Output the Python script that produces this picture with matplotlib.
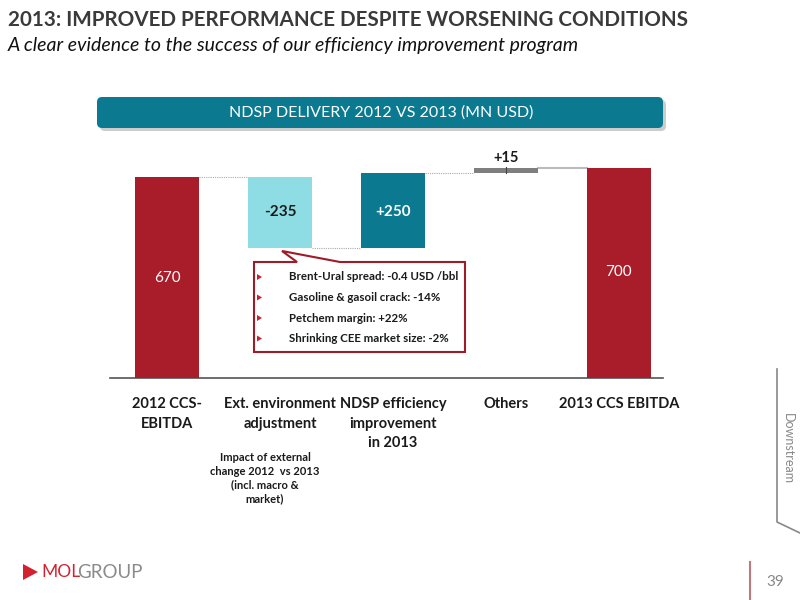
import matplotlib
matplotlib.use("Agg")
import matplotlib.pyplot as plt
from matplotlib.patches import FancyBboxPatch, Polygon

# ── Data ──────────────────────────────────────────────────────────────────────
CATEGORIES = ["2012 CCS-\nEBITDA", "Ext. environment\nadjustment",
              "NDSP efficiency\nimprovement\nin 2013", "Others", "2013 CCS EBITDA"]
VALUES = [670, -235, 250, 15, 700]
VALUE_LABELS = ["670", "-235", "+250", "+15", "700"]
IS_TOTAL = [True, False, False, False, True]
BAR_COLORS = ["#a91d2b", "#8fdde4", "#0b7a91", "#7f7f7f", "#a91d2b"]

CALLOUT_LINES = ["Brent-Ural spread: -0.4 USD /bbl",
                 "Gasoline & gasoil crack: -14%",
                 "Petchem margin: +22%",
                 "Shrinking CEE market size: -2%"]

RED = "#a91d2b"
TEAL = "#0b7a91"
FONT = "Lato"

# ── Figure ────────────────────────────────────────────────────────────────────
fig = plt.figure(figsize=(8, 6), dpi=100)
fig.patch.set_facecolor("white")

# chart axes placed in pixel terms (baseline at y=378 px)
ax = fig.add_axes([110 / 800, (600 - 378) / 600, 553 / 800, 240 / 600])
ax.set_xlim(-0.504, 4.39)
ax.set_ylim(0, 800)

bottoms, heights = [], []
running = 0
for v, total in zip(VALUES, IS_TOTAL):
    if total:
        bottoms.append(0)
        heights.append(v)
        running = v
    else:
        new = running + v
        bottoms.append(min(running, new))
        heights.append(abs(v))
        running = new

xs = list(range(len(VALUES)))
ax.bar(xs, heights, bottom=bottoms, width=0.56, color=BAR_COLORS, zorder=3)

# connectors between consecutive bars
levels = [670, 435, 685, 700]
for i, lvl in enumerate(levels):
    if i == 3:
        ax.plot([i + 0.28, i + 0.72], [lvl, lvl], color="#bbbbbb", lw=1.5, zorder=2)
    else:
        ax.plot([i + 0.28, i + 0.72], [lvl, lvl], color="#aaaaaa", lw=0.8,
                ls=(0, (1, 1)), zorder=2)
ax.plot([3, 3], [bottoms[3] - 3, bottoms[3] + 15 + 3], color="#444444", lw=0.8, zorder=4)

# value labels
ax.text(0, 335, VALUE_LABELS[0], ha="center", va="center", color="white",
        fontsize=11, family=FONT)
ax.text(1, 552, VALUE_LABELS[1], ha="center", va="center", color="#1a1a1a",
        fontsize=11, fontweight="bold", family=FONT)
ax.text(2, 552, VALUE_LABELS[2], ha="center", va="center", color="white",
        fontsize=11, fontweight="bold", family=FONT)
ax.text(3, 710, VALUE_LABELS[3], ha="center", va="bottom", color="#1a1a1a",
        fontsize=10.5, fontweight="bold", family=FONT)
ax.text(4, 355, VALUE_LABELS[4], ha="center", va="center", color="white",
        fontsize=11, family=FONT)

ax.set_xticks(xs)
ax.set_xticklabels(CATEGORIES, fontsize=10.5, fontweight="bold", family=FONT,
                   color="#1a1a1a", linespacing=1.5)
ax.tick_params(axis="x", length=0, pad=14)
ax.set_yticks([])
for s in ["top", "left", "right"]:
    ax.spines[s].set_visible(False)
ax.spines["bottom"].set_color("#555555")
ax.spines["bottom"].set_linewidth(1.2)
ax.patch.set_alpha(0)

# ── Overlay in pixel coordinates ─────────────────────────────────────────────
ov = fig.add_axes([0, 0, 1, 1], zorder=5)
ov.set_xlim(0, 800)
ov.set_ylim(600, 0)
ov.axis("off")
ov.patch.set_alpha(0)

ov.text(8, 20, "2013: IMPROVED PERFORMANCE DESPITE WORSENING CONDITIONS",
        fontsize=14.9, fontweight="bold", color="#3a3a3a", family=FONT,
        va="center", ha="left")
ov.text(8, 46, "A clear evidence to the success of our efficiency improvement program",
        fontsize=14, style="italic", color="#111111", family=FONT,
        va="center", ha="left")

# banner
ov.add_patch(FancyBboxPatch((100, 100), 566, 31, boxstyle="round,pad=0,rounding_size=5",
                            fc="#9a9a9a", ec="none", alpha=0.5))
ov.add_patch(FancyBboxPatch((97, 97), 566, 31, boxstyle="round,pad=0,rounding_size=5",
                            fc=TEAL, ec="none"))
ov.text(381, 113, "NDSP DELIVERY 2012 VS 2013 (MN USD)", color="white",
        fontsize=11.5, ha="center", va="center", family=FONT)

# callout
callout = Polygon([(254, 262), (297, 262), (282, 251), (340, 262), (465, 262),
                   (465, 352), (254, 352)], closed=True, fc="white", ec="#9e1b27", lw=1.5)
ov.add_patch(callout)
for j, line in enumerate(CALLOUT_LINES):
    yy = 277 + j * 20.5
    ov.add_patch(Polygon([(257, yy - 3), (257, yy + 3), (262, yy)], closed=True,
                         fc="#c8202e", ec="none"))
    ov.text(289, yy, line, fontsize=8.3, fontweight="bold", color="#1a1a1a",
            family=FONT, va="center", ha="left")

# note under category
ov.text(265, 478, "Impact of external\nchange 2012  vs 2013\n(incl. macro &\nmarket)",
        fontsize=8, fontweight="bold", color="#1a1a1a", family=FONT,
        ha="center", va="center", linespacing=1.3)

# side tab
ov.plot([777, 777, 800], [369, 522, 533], color="#888888", lw=1.2)
ov.text(788, 449, "Downstream", rotation=-90, fontsize=9, color="#888888",
        ha="center", va="center", family=FONT)

# footer
ov.plot([750, 750], [562, 600], color="#c0787e", lw=1.5)
ov.text(775, 582, "39", fontsize=11, color="#888888", ha="center", va="center",
        family=FONT)
ov.add_patch(Polygon([(23, 564), (23, 580), (38, 572)], closed=True, fc="#d42130",
                     ec="none"))
ov.text(41, 572, "MOL", fontsize=12.5, color="#d42130", ha="left", va="center",
        family=FONT)
ov.text(77, 572, "GROUP", fontsize=13.5, color="#8a8a8a", ha="left", va="center",
        family=FONT)

fig.savefig("out.png", dpi=100, facecolor="white")
